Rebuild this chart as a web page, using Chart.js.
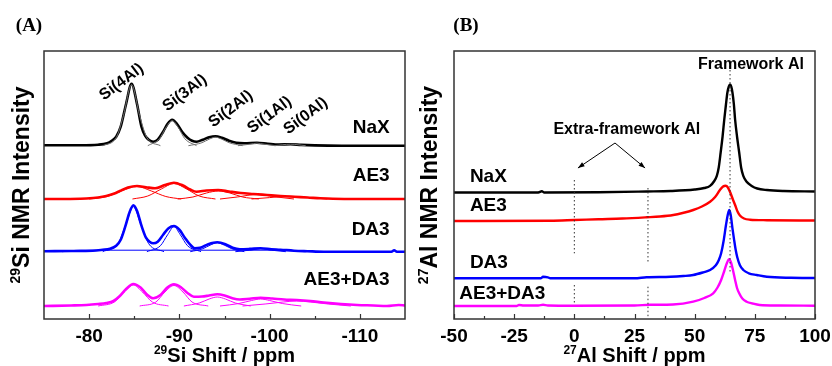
<!DOCTYPE html>
<html>
<head>
<meta charset="utf-8">
<script src="https://cdn.jsdelivr.net/npm/chart.js@4.4.1/dist/chart.umd.min.js"></script>
<style>
  body { margin: 0; background: #fff; width: 832px; height: 366px; overflow: hidden; position: relative; }
  canvas { position: absolute; top: 0; }
  #chartA { left: 0; }
  #chartB { left: 410px; }
</style>
</head>
<body>
<canvas id="chartA" width="410" height="366"></canvas>
<canvas id="chartB" width="422" height="366"></canvas>
<script>
// ---- data ----
const sampleNames = ['NaX', 'AE3', 'DA3', 'AE3+DA3'];
const siPeakNames = ['Si(4Al)', 'Si(3Al)', 'Si(2Al)', 'Si(1Al)', 'Si(0Al)'];
const siTicks = [-80, -90, -100, -110];
const siMinorTicks = [-85, -95, -105];
const alTicks = [-50, -25, 0, 25, 50, 75, 100];
const alMinorTicks = [-37.5, -12.5, 12.5, 37.5, 62.5, 87.5];

// (A) 29Si spectra: [ppm, intensity]
const siNaX = [[-75,0.5],[-79,0.5],[-81,1],[-82,2.5],[-82.5,5],[-83,9],[-83.5,19],[-84.1,42],[-84.7,62],[-85.3,42],[-85.8,19],[-86.2,10],[-86.6,6],[-87.1,4],[-87.6,6],[-88.2,14],[-88.7,22],[-89.2,26],[-89.8,21],[-90.3,14],[-90.9,8],[-91.4,5],[-91.9,4],[-92.6,6],[-93.3,8.5],[-94,9.5],[-94.7,8],[-95.5,5],[-96.3,3],[-97.2,2.5],[-98.6,3],[-99.8,2],[-101,1.2],[-102.3,1.5],[-103.5,0.8],[-105,0.3],[-108,0],[-115,0]];
const siAE3 = [[-75,0],[-79,0.3],[-79.7,0.5],[-81,1.5],[-81.9,3],[-82.8,5.5],[-83.4,8],[-84.3,11.5],[-85.3,13],[-86.3,11.8],[-87.3,10.7],[-88.4,14],[-89.4,16.3],[-90.4,13.5],[-91.2,9.5],[-91.9,7.3],[-93,8.5],[-94.3,9],[-95.5,7.5],[-96.8,6],[-98.2,5],[-99.7,4],[-101.2,3],[-102.7,2.2],[-104.2,1.5],[-105.6,0.7],[-107,0.2],[-110,0],[-115,0]];
const siDA3 = [[-75,0.5],[-78,0.7],[-80.4,1],[-81.5,2],[-82.3,3],[-83,6],[-83.5,12],[-84,25],[-84.5,40],[-84.9,46.5],[-85.3,41],[-85.8,26],[-86.3,14],[-86.7,10],[-87.1,8.4],[-87.6,10],[-88.2,17],[-88.8,23.5],[-89.4,25.7],[-90,22],[-90.6,14],[-91.2,7],[-91.7,3.5],[-92.3,4],[-93.2,7.5],[-94.2,9.4],[-95.1,7.5],[-95.9,4],[-96.7,2.5],[-97.8,2.8],[-99,3.4],[-100.2,2.5],[-101.2,2],[-102.7,1],[-104.2,0.5],[-106,0],[-113.5,0],[-113.8,1.5],[-114.1,0],[-115,0]];
const siMix = [[-75,0],[-78,0.5],[-79.7,1],[-81,2],[-81.9,3],[-82.7,5],[-83.4,10],[-84.1,17],[-84.9,22],[-85.7,18.5],[-86.4,11.5],[-87.1,7.7],[-87.9,11],[-88.6,18],[-89.4,21.7],[-90.2,18.5],[-90.9,13],[-91.6,9.3],[-92.5,9.5],[-93.3,10.5],[-94.2,11.7],[-95,10.5],[-95.8,8],[-96.7,6.5],[-97.8,7.3],[-99,8.3],[-100.3,7.5],[-101.6,6.5],[-103,6],[-104.5,5],[-106,3.5],[-107.9,2],[-109.7,1],[-111.5,0.5],[-113,0],[-114.3,1],[-115,0.5]];

// (A) fitted components
const siNaXFit = [
  [[-81.5,0],[-83,8],[-83.8,30],[-84.7,61],[-85.6,30],[-86.4,8],[-87.9,0]],
  [[-86.5,0],[-87.8,7],[-88.5,18],[-89.2,25],[-89.9,18],[-90.6,7],[-91.9,0]],
  [[-91,0],[-92.5,3],[-93.3,6.5],[-94,8.5],[-94.7,6.5],[-95.5,3],[-97,0]],
  [[-96.5,0],[-97.8,1.5],[-98.6,2.5],[-99.4,1.5],[-100.7,0]],
  [[-100.5,0],[-102.3,1.5],[-104,0]]
];
const siAE3Fit = [
  [[-80,0],[-82,2.5],[-83.6,8],[-85.3,12.5],[-86.9,8],[-88.5,2.5],[-90.2,0]],
  [[-84.8,0],[-86.5,3],[-88,10],[-89.4,15.5],[-90.8,10],[-92.2,3],[-94,0]],
  [[-89.8,0],[-91.5,2],[-93,6],[-94.3,8],[-95.6,6],[-97,2],[-98.8,0]],
  [[-94.5,0],[-96.4,2],[-98.6,4.5],[-100.8,2],[-102.7,0]],
  [[-98,0],[-100,1.4],[-102.2,2.8],[-104.4,1.4],[-106.4,0]]
];
const siDA3Fit = [
  [[-81.5,0],[-83.2,8],[-84.1,28],[-84.9,45],[-85.7,28],[-86.6,8],[-88.3,0]],
  [[-86.4,0],[-87.9,6],[-88.7,17],[-89.4,25],[-90.1,17],[-90.9,6],[-92.4,0]],
  [[-91.2,0],[-92.6,3],[-93.4,6.5],[-94.2,9],[-95,6.5],[-95.8,3],[-97.2,0]],
  [[-96.2,0],[-97.8,1.5],[-99,3],[-100.2,1.5],[-101.8,0]],
  [[-77,0],[-79,1.5],[-101,1.5],[-104,0]]
];
const siMixFit = [
  [[-81,0],[-82.8,4],[-83.9,14],[-84.9,21],[-85.9,14],[-87,4],[-88.8,0]],
  [[-85.6,0],[-87.4,4],[-88.4,14],[-89.4,20.5],[-90.4,14],[-91.4,4],[-93.2,0]],
  [[-90.5,0],[-92.2,3],[-93.3,7],[-94.2,9],[-95.1,7],[-96.2,3],[-97.9,0]],
  [[-94.5,0],[-96.6,2.5],[-98,5.5],[-99,7],[-100,5.5],[-101.4,2.5],[-103.5,0]],
  [[-97,0],[-99.5,2],[-101.5,4],[-103,5],[-104.5,4],[-106.5,2],[-109,0]]
];

// (B) 27Al spectra: [ppm, intensity]
const alNaX = [[-50,0],[-15,0],[-13.5,1.2],[-12.5,0],[10,0.2],[30,1],[40,1.5],[50,3],[54,4.5],[56.4,6.6],[58,11],[59.2,16.6],[60,25],[60.8,40],[61.6,56],[62.3,73],[63,88],[63.6,100],[64.2,106],[64.7,108],[65.2,106],[65.7,100],[66.3,88],[66.8,73],[67.6,56],[68.5,40],[69.3,25],[70.2,16.6],[71.5,11],[73.7,6.6],[76,4],[80,2.5],[87,1.5],[100,1]];
const alAE3 = [[-50,0],[-10,0.3],[0,1],[10,1.8],[20,2.5],[30,3.7],[35.6,4.5],[41.1,6],[45,8],[49.4,11],[53,14.5],[56.4,19.3],[58.5,24],[60.5,31],[61.8,34.5],[62.9,35.3],[63.8,33.5],[64.8,28.5],[65.8,22],[66.8,16],[67.8,9.5],[68.8,5.5],[70.5,2.5],[73,1.3],[80,0.8],[100,0.5]];
const alDA3 = [[-50,0],[-14,0],[-13,1.5],[-11,1],[-10,0],[25,0],[30,1],[40,1.5],[45.3,2.3],[49.4,3.3],[53.6,6],[56.4,8.3],[58.8,13],[60,18],[61,25],[62,37],[63,53],[63.8,64],[64.4,68.3],[65,63],[65.7,50],[66.3,40],[67,29],[67.7,21],[68.8,13],[70.2,8.3],[72.5,5],[75.8,3.3],[80,1.5],[90,0.5],[100,0.3]];
const alMix = [[-50,0],[-24,0],[-23,1],[-21,0.5],[-15,0.5],[-13,1.2],[-11,0.5],[0,0.3],[25,0.5],[31.3,1.2],[41,1.5],[49.4,4.3],[54,8],[57.7,12.7],[59.5,18.5],[61,26],[62.3,35],[63.4,43],[64.3,46.7],[65.1,43.5],[65.9,36],[66.8,26],[67.6,18],[68.5,12.7],[69.8,7.5],[71.6,4.3],[74,2.5],[77,1],[85,0.5],[100,0.3]];

// (B) dotted guides: [ppm, from, to] in stacked intensity units
const alGuides = [[0,139,65.7],[0,34,15.7],[30.6,131,56.3],[30.6,32.3,2.3],[64.7,257,46]];

const colors = ['#000000', '#ff0000', '#0000ff', '#ff00ff'];
const fitColors = ['#707070', '#ff0000', '#0000ff', '#ff00ff'];
const siOffsets = [173.3, 120, 67.3, 13];
const alOffsets = [126.5, 98, 40.7, 13];

const SANS = '"Liberation Sans", Arial, sans-serif';

function shift(pairs, off) {
  return pairs.map(p => ({ x: p[0], y: p[1] + off }));
}

function spectrumSet(pairs, off, color, width) {
  return {
    data: shift(pairs, off),
    borderColor: color,
    borderWidth: width,
    pointRadius: 0,
    fill: false,
    cubicInterpolationMode: 'monotone'
  };
}

// frame, inward ticks, axis titles with superscripts, text labels, arrows
function makeDeco(cfg) {
  return {
    id: 'deco',
    afterDraw(chart) {
      const ctx = chart.ctx;
      const a = chart.chartArea;
      const xs = chart.scales.x, ys = chart.scales.y;
      ctx.save();
      ctx.strokeStyle = '#333';
      ctx.lineWidth = 1.5;
      ctx.strokeRect(a.left, a.top, a.right - a.left, a.bottom - a.top);
      ctx.lineWidth = 1.2;
      ctx.beginPath();
      cfg.major.forEach(v => {
        const px = Math.round(xs.getPixelForValue(v)) + 0.5;
        ctx.moveTo(px, a.bottom); ctx.lineTo(px, a.bottom - 5);
      });
      cfg.minor.forEach(v => {
        const px = Math.round(xs.getPixelForValue(v)) + 0.5;
        ctx.moveTo(px, a.bottom); ctx.lineTo(px, a.bottom - 3);
      });
      ctx.stroke();

      // axis titles
      ctx.fillStyle = '#000';
      const drawSup = (sup, main, size, cx, cy, rot) => {
        ctx.save();
        ctx.translate(cx, cy);
        ctx.rotate(rot);
        ctx.font = 'bold ' + Math.round(size * 0.6) + 'px ' + SANS;
        const ws = ctx.measureText(sup).width;
        ctx.font = 'bold ' + size + 'px ' + SANS;
        const wm = ctx.measureText(main).width;
        const x0 = -(ws + wm) / 2;
        ctx.textBaseline = 'alphabetic';
        ctx.textAlign = 'left';
        const base = size * 0.36;
        ctx.fillText(main, x0 + ws, base);
        ctx.font = 'bold ' + Math.round(size * 0.6) + 'px ' + SANS;
        ctx.fillText(sup, x0, base - size * 0.42);
        ctx.restore();
      };
      drawSup(cfg.xTitle[0], cfg.xTitle[1], 20, (a.left + a.right) / 2, 355, 0);
      drawSup(cfg.yTitle[0], cfg.yTitle[1], 23, cfg.yTitleX, (a.top + a.bottom) / 2, -Math.PI / 2);

      // panel letter
      ctx.font = 'bold 19px "Liberation Serif", "Times New Roman", serif';
      ctx.textAlign = 'center';
      ctx.textBaseline = 'middle';
      ctx.fillText(cfg.panel[0], cfg.panel[1], cfg.panel[2]);

      // labels in data coordinates
      cfg.labels.forEach(l => {
        ctx.save();
        ctx.font = 'bold ' + l.size + 'px ' + SANS;
        ctx.textAlign = l.align || 'center';
        ctx.textBaseline = 'middle';
        ctx.translate(xs.getPixelForValue(l.x), ys.getPixelForValue(l.y));
        if (l.rot) ctx.rotate(l.rot * Math.PI / 180);
        ctx.fillText(l.text, 0, 0);
        ctx.restore();
      });

      // arrows
      (cfg.arrows || []).forEach(ar => {
        const x1 = xs.getPixelForValue(ar[0]), y1 = ys.getPixelForValue(ar[1]);
        const x2 = xs.getPixelForValue(ar[2]), y2 = ys.getPixelForValue(ar[3]);
        ctx.strokeStyle = '#000';
        ctx.lineWidth = 1;
        ctx.beginPath(); ctx.moveTo(x1, y1); ctx.lineTo(x2, y2); ctx.stroke();
        const ang = Math.atan2(y2 - y1, x2 - x1);
        ctx.beginPath();
        ctx.moveTo(x2, y2);
        ctx.lineTo(x2 - 7 * Math.cos(ang - 0.35), y2 - 7 * Math.sin(ang - 0.35));
        ctx.lineTo(x2 - 7 * Math.cos(ang + 0.35), y2 - 7 * Math.sin(ang + 0.35));
        ctx.closePath();
        ctx.fill();
      });
      ctx.restore();
    }
  };
}

function baseOptions(minV, maxV, reverse, tickValues, rightPad) {
  return {
    responsive: false,
    animation: false,
    devicePixelRatio: 1,
    layout: { padding: { top: 51, left: 0, right: rightPad, bottom: 0 } },
    plugins: { legend: { display: false }, tooltip: { enabled: false } },
    scales: {
      x: {
        type: 'linear',
        min: minV, max: maxV, reverse: reverse,
        grid: { display: false, drawTicks: false },
        border: { display: false },
        ticks: {
          autoSkip: false,
          maxRotation: 0,
          padding: 6,
          color: '#000',
          font: { family: SANS, size: 19, weight: 'bold' }
        },
        afterBuildTicks: s => { s.ticks = tickValues.map(v => ({ value: v })); },
        afterFit: s => { s.height = 47; s.paddingLeft = 0; s.paddingRight = 0; }
      },
      y: {
        min: 0, max: 268,
        grid: { display: false, drawTicks: false },
        border: { display: false },
        ticks: { display: false },
        afterFit: s => { s.width = 44; s.paddingTop = 0; s.paddingBottom = 0; }
      }
    }
  };
}

// ---- (A) 29Si ----
const siSpectra = [siNaX, siAE3, siDA3, siMix];
const siFits = [siNaXFit, siAE3Fit, siDA3Fit, siMixFit];
const dsA = [];
siFits.forEach((fits, i) => fits.forEach(f => dsA.push(spectrumSet(f, siOffsets[i], fitColors[i], 1))));
siSpectra.forEach((s, i) => dsA.push(spectrumSet(s, siOffsets[i], colors[i], 2.6)));

new Chart(document.getElementById('chartA'), {
  type: 'line',
  data: { datasets: dsA },
  options: baseOptions(-115, -75, true, siTicks, 5),
  plugins: [makeDeco({
    major: siTicks, minor: siMinorTicks,
    xTitle: ['29', 'Si Shift / ppm'],
    yTitle: ['29', 'Si NMR Intensity'],
    yTitleX: 21,
    panel: ['(A)', 29, 26],
    labels: [
      { text: siPeakNames[0], x: -83.6, y: 237, size: 16, rot: -37 },
      { text: siPeakNames[1], x: -90.6, y: 226, size: 16, rot: -37 },
      { text: siPeakNames[2], x: -95.7, y: 210, size: 16, rot: -37 },
      { text: siPeakNames[3], x: -100.0, y: 204, size: 16, rot: -37 },
      { text: siPeakNames[4], x: -104.0, y: 203, size: 16, rot: -37 },
      { text: sampleNames[0], x: -113.3, y: 191, size: 19, align: 'right' },
      { text: sampleNames[1], x: -113.3, y: 143, size: 19, align: 'right' },
      { text: sampleNames[2], x: -113.3, y: 89, size: 19, align: 'right' },
      { text: sampleNames[3], x: -113.3, y: 39, size: 19, align: 'right' }
    ]
  })]
});

// ---- (B) 27Al ----
const alSpectra = [alNaX, alAE3, alDA3, alMix];
const dsB = [];
alGuides.forEach(g => dsB.push({
  data: [{ x: g[0], y: g[1] }, { x: g[0], y: g[2] }],
  borderColor: '#333', borderWidth: 1, borderDash: [1.5, 2.5], pointRadius: 0, fill: false
}));
alSpectra.forEach((s, i) => dsB.push(spectrumSet(s, alOffsets[i], colors[i], 2.4)));

new Chart(document.getElementById('chartB'), {
  type: 'line',
  data: { datasets: dsB },
  options: baseOptions(-50, 100, false, alTicks, 17),
  plugins: [makeDeco({
    major: alTicks, minor: alMinorTicks,
    xTitle: ['27', 'Al Shift / ppm'],
    yTitle: ['27', 'Al NMR Intensity'],
    yTitleX: 19,
    panel: ['(B)', 56, 26],
    labels: [
      { text: 'Framework Al', x: 73.4, y: 254, size: 16 },
      { text: 'Extra-framework Al', x: 21.8, y: 189, size: 16 },
      { text: sampleNames[0], x: -43.4, y: 142, size: 19, align: 'left' },
      { text: sampleNames[1], x: -43.4, y: 113, size: 19, align: 'left' },
      { text: sampleNames[2], x: -43.4, y: 56.7, size: 19, align: 'left' },
      { text: sampleNames[3], x: -47.8, y: 25.7, size: 19, align: 'left' }
    ],
    arrows: [[16.9, 176, 1.5, 151], [16.9, 176, 29.4, 151]]
  })]
});
</script>
</body>
</html>
